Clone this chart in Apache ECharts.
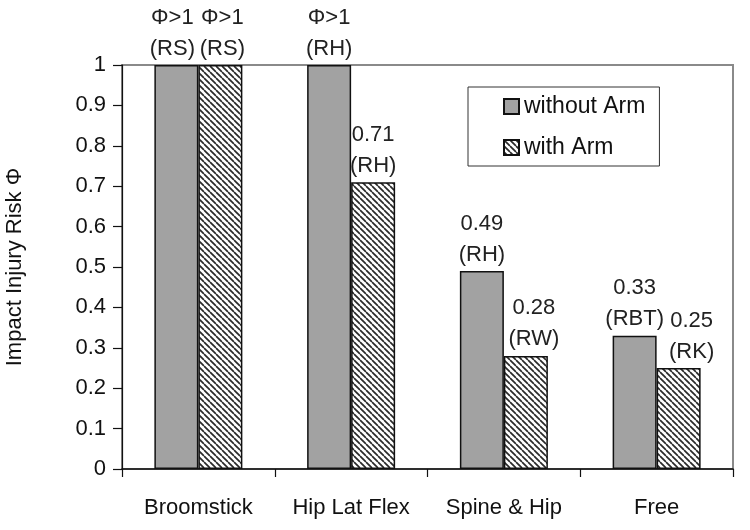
<!DOCTYPE html>
<html>
<head>
<meta charset="utf-8">
<script src="https://cdn.jsdelivr.net/npm/echarts@6/dist/echarts.min.js"></script>
<style>
html,body{margin:0;padding:0;background:#fff;}
#chart{width:750px;height:530px;}
</style>
</head>
<body>
<div id="chart"></div>
<script>
const categories = ['Broomstick', 'Hip Lat Flex', 'Spine & Hip', 'Free'];
const seriesNames = ['without Arm', 'with Arm'];
const valuesWithout = [1, 1, 0.49, 0.33];
const valuesWith = [1, 0.71, 0.28, 0.25];
const labelsWithout = ['Φ>1\n(RS)', 'Φ>1\n(RH)', '0.49\n(RH)', '0.33\n(RBT)'];
const labelsWith = ['Φ>1\n(RS)', '0.71\n(RH)', '0.28\n(RW)', '0.25\n(RK)'];
const yTicks = [0, 0.1, 0.2, 0.3, 0.4, 0.5, 0.6, 0.7, 0.8, 0.9, 1];

const FONT = '"Liberation Sans", Arial, sans-serif';

// hatch pattern
const pc = document.createElement('canvas');
pc.width = 6; pc.height = 6;
const ctx = pc.getContext('2d');
ctx.fillStyle = '#ffffff';
ctx.fillRect(0, 0, 6, 6);
ctx.strokeStyle = '#2a2a2a';
ctx.lineWidth = 1.7;
for (const k of [-6, 0, 6]) {
  ctx.beginPath();
  ctx.moveTo(k, 0);
  ctx.lineTo(k + 6, 6);
  ctx.stroke();
}
const hatch = { image: pc, repeat: 'repeat' };

const chart = echarts.init(document.getElementById('chart'), null, { renderer: 'canvas' });

const labelStyle = {
  show: true,
  position: 'top',
  distance: 1,
  fontFamily: FONT,
  fontSize: 22,
  lineHeight: 31,
  color: '#222'
};

// small horizontal nudges of a few labels, as in the original layout
function nudge(seriesIdx, i) {
  if (seriesIdx === 0 && i === 0) return [-4, 0];
  if (seriesIdx === 1 && i === 0) return [2, 0];
  if (seriesIdx === 1 && i === 2) return [8, 0];
  if (seriesIdx === 1 && i === 3) return [13, 0];
  return [0, 0];
}

function buildData(values, sIdx) {
  return values.map((v, i) => ({ value: v, label: { offset: nudge(sIdx, i) } }));
}

chart.setOption({
  animation: false,
  backgroundColor: '#ffffff',
  grid: {
    left: 122, right: 17, top: 65, bottom: 61,
    outerBoundsMode: 'none',
    containLabel: false,
    show: true, borderColor: '#8a8a8a', borderWidth: 2, backgroundColor: 'transparent'
  },
  legend: {
    orient: 'vertical',
    left: 468, top: 87,
    padding: [8, 14, 7, 35],
    itemGap: 18,
    itemWidth: 15, itemHeight: 15,
    borderColor: '#333', borderWidth: 1,
    backgroundColor: '#fff',
    icon: 'rect',
    textStyle: { fontFamily: FONT, fontSize: 23, color: '#111', lineHeight: 22 },
    data: seriesNames
  },
  xAxis: {
    type: 'category',
    data: categories,
    axisLine: { show: true, lineStyle: { color: '#111', width: 1.5 } },
    axisTick: { show: true, length: 8, lineStyle: { color: '#111', width: 1.2 } },
    axisLabel: { interval: 0, fontFamily: FONT, fontSize: 22, color: '#111', margin: 28 },
    splitLine: { show: false }
  },
  yAxis: {
    type: 'value',
    min: 0, max: 1, interval: 0.1,
    name: 'Impact Injury Risk Φ',
    nameLocation: 'middle',
    nameGap: 96,
    nameTextStyle: { fontFamily: FONT, fontSize: 22, color: '#111' },
    axisLine: { show: true, lineStyle: { color: '#111', width: 1.2 } },
    axisTick: { show: true, length: 9, lineStyle: { color: '#111', width: 1.2 } },
    axisLabel: {
      fontFamily: FONT, fontSize: 22, color: '#111', margin: 16,
      formatter: v => {
        const t = yTicks.find(x => Math.abs(x - v) < 1e-6);
        return String(t !== undefined ? t : +v.toFixed(1));
      }
    },
    splitLine: { show: false }
  },
  series: [
    {
      name: seriesNames[0],
      type: 'bar',
      barWidth: 44,
      barGap: '0%',
      itemStyle: { color: '#a2a2a2', borderColor: '#111', borderWidth: 1.5 },
      label: Object.assign({}, labelStyle, { formatter: p => labelsWithout[p.dataIndex] }),
      data: buildData(valuesWithout, 0)
    },
    {
      name: seriesNames[1],
      type: 'bar',
      barWidth: 44,
      barGap: '0%',
      itemStyle: { color: hatch, borderColor: '#111', borderWidth: 1.5 },
      label: Object.assign({}, labelStyle, { formatter: p => labelsWith[p.dataIndex] }),
      data: buildData(valuesWith, 1)
    }
  ]
});
</script>
</body>
</html>
